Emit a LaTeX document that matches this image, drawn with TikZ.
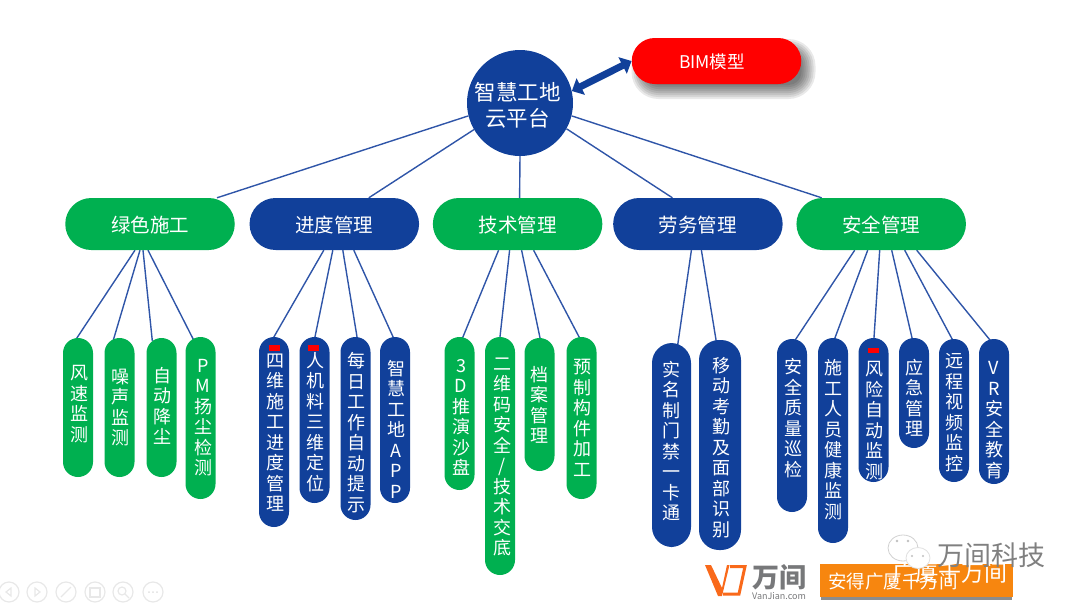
\documentclass[tikz,border=0pt]{standalone}
\usepackage{fontspec}
\setmainfont{Noto Sans CJK SC}
\usetikzlibrary{arrows.meta,positioning,backgrounds}
\definecolor{deepblue}{HTML}{11409A}
\definecolor{wireblue}{HTML}{2F55A8}
\definecolor{leafgreen}{HTML}{00B050}
\definecolor{tagorange}{HTML}{F7860F}
\definecolor{logored}{HTML}{F9691A}
\definecolor{logogray}{HTML}{77787A}
\tikzset{
  topbox/.style   = {rectangle, rounded corners=26pt, inner sep=0pt, minimum width=169.5pt,
                     minimum height=52pt, text=white, align=center, text height=19pt,
                     font=\fontsize{19.5}{24}\selectfont},
  leaf/.style     = {rectangle, rounded corners=15pt, inner sep=0pt, minimum width=30pt},
  wideleaf/.style = {leaf, rounded corners=20pt},
  leaftext/.style = {inner sep=0pt, text=white, align=center, font=\fontsize{18}{20.5}\selectfont},
  redtag/.style   = {fill=red, inner sep=0pt, minimum width=11pt, minimum height=5.5pt},
  wire/.style     = {draw=wireblue, line width=1.4pt, shorten >=-3pt},
  toolring/.style = {draw=black!9, line width=1.2pt},
}
\begin{document}
\begin{tikzpicture}[x=1pt,y=-1pt]
\useasboundingbox (0,0) rectangle (1080,603);
% ---- platform and model ----
\node[circle, fill=deepblue, minimum size=106pt, inner sep=0pt] (root) at (520,103) {};
\node[leaftext, font=\fontsize{21.5}{26}\selectfont] (roottxt) at (517.5,105) {智慧工地\\云平台};
\node[topbox, fill=red, minimum height=46pt, rounded corners=23pt] (bim) at (716.5,61) {};
\node[leaftext, font=\fontsize{17.5}{20}\selectfont] (bimtxt) at (712,62) {BIM模型};
\draw[{Triangle[length=10pt,width=18pt]}-{Triangle[length=10pt,width=18pt]}, line width=7pt, draw=deepblue]
  (root.13) -- (bim.west);
% ---- second row ----
\node[topbox, fill=leafgreen] (green) at (150,224) {绿色施工};
\node[topbox, fill=deepblue, right=14.4pt of green] (prog) {进度管理};
\node[topbox, fill=leafgreen, right=13.4pt of prog] (tech) {技术管理};
\node[topbox, fill=deepblue, right=10.4pt of tech] (labor) {劳务管理};
\node[topbox, fill=leafgreen, right=13.4pt of labor] (safe) {安全管理};
% ---- green construction ----
\foreach \n/\x/\ya/\yb/\xt/\yt/\txt in {
    green1/78/338/477/79.5/404/{风\\速\\监\\测},
    green2/119.5/338/477/120/407.5/{噪\\声\\监\\测},
    green3/161.5/338/477/162.5/406/{自\\动\\降\\尘},
    green4/200.5/337/499/203/417.5/{P\\M\\扬\\尘\\检\\测}} {
  \node[leaf, fill=leafgreen, minimum height={\yb-\ya}] (\n) at (\x,{(\ya+\yb)/2}) {};
  \node[leaftext] (\n txt) at (\xt,\yt) {\txt};
}
% ---- progress ----
\foreach \n/\x/\ya/\yb/\xt/\yt/\txt in {
    prog1/274/337/527/275/432.5/{四\\维\\施\\工\\进\\度\\管\\理},
    prog2/314.5/337/503/315/422/{人\\机\\料\\三\\维\\定\\位},
    prog3/355.5/337/520/356/432.5/{每\\日\\工\\作\\自\\动\\提\\示},
    prog4/395/337/503/396/429/{智\\慧\\工\\地\\A\\P\\P}} {
  \node[leaf, fill=deepblue, minimum height={\yb-\ya}] (\n) at (\x,{(\ya+\yb)/2}) {};
  \node[leaftext] (\n txt) at (\xt,\yt) {\txt};
}
\node[redtag] (tag1) at (274.5,348) {};
\node[redtag] (tag2) at (313.5,348) {};
% ---- technology ----
\foreach \n/\x/\ya/\yb/\xt/\yt/\txt in {
    tech1/459.5/337/490/461/417.5/{3\\D\\推\\演\\沙\\盘},
    tech2/500/337/575/502/457/{二\\维\\码\\安\\全\\/\\技\\术\\交\\底},
    tech3/539.5/338/471/539/405/{档\\案\\管\\理},
    tech4/581.5/337/499/582/418/{预\\制\\构\\件\\加\\工}} {
  \node[leaf, fill=leafgreen, minimum height={\yb-\ya}] (\n) at (\x,{(\ya+\yb)/2}) {};
  \node[leaftext] (\n txt) at (\xt,\yt) {\txt};
}
% ---- labour ----
\node[wideleaf, fill=deepblue, minimum width=39pt, minimum height=204pt] (labor1) at (671.5,445) {};
\node[leaftext] (labor1 txt) at (671,441) {实\\名\\制\\门\\禁\\一\\卡\\通};
\node[wideleaf, fill=deepblue, minimum width=42pt, minimum height=210pt] (labor2) at (720,445) {};
\node[leaftext] (labor2 txt) at (721,447.5) {移\\动\\考\\勤\\及\\面\\部\\识\\别};
% ---- safety ----
\foreach \n/\x/\ya/\yb/\xt/\yt/\txt in {
    safe1/792/339/512/793/418/{安\\全\\质\\量\\巡\\检},
    safe2/833/338/543/833/439.5/{施\\工\\人\\员\\健\\康\\监\\测},
    safe3/873.5/338/482/874/420.5/{风\\险\\自\\动\\监\\测},
    safe4/914/338/448/914/398/{应\\急\\管\\理},
    safe5/954/339/482/954/412.5/{远\\程\\视\\频\\监\\控},
    safe6/994/339/484/994/420/{V\\R\\安\\全\\教\\育}} {
  \node[leaf, fill=deepblue, minimum height={\yb-\ya}] (\n) at (\x,{(\ya+\yb)/2}) {};
  \node[leaftext] (\n txt) at (\xt,\yt) {\txt};
}
\node[redtag] (tag3) at (873.5,350.5) {};
% ---- connectors and shadows go under the boxes ----
\begin{pgfonlayer}{background}
\foreach \s [evaluate=\s as \r using 13+\s] in {0,2,...,14}
  \node[fill=black, opacity=0.085, inner sep=0pt, rounded corners=\r pt,
        minimum width={156+2*\s}, minimum height={32+2*\s}] (bimshade\s) at (723.5,69) {};
\draw[wire, shorten >=0pt] (root.194) -- ([xshift=67pt]green.north);
\draw[wire, shorten >=0pt] (root.210) -- ([xshift=34.5pt]prog.north);
\draw[wire, shorten >=0pt] (root.270) -- ([xshift=2pt]tech.north);
\draw[wire, shorten >=0pt] (root.331) -- ([xshift=-25.5pt]labor.north);
\draw[wire, shorten >=0pt] (root.346) -- ([xshift=-59.5pt]safe.north);
\foreach \a/\c/\b in {-15/green1/-1, -10/green2/-5.5, -7/green3/-9.5, -2/green4/-8.5}
  \draw[wire] ([xshift=\a pt]green.south) -- ([xshift=\b pt]\c.north);
\foreach \a/\c/\b in {-10.5/prog1/0, -1.5/prog2/0.5, 8.5/prog3/1.5, 19.5/prog4/-2}
  \draw[wire] ([xshift=\a pt]prog.south) -- ([xshift=\b pt]\c.north);
\foreach \a/\c/\b in {-19/tech1/3.5, -8/tech2/0, 4/tech3/0.5, 16/tech4/-2.5}
  \draw[wire] ([xshift=\a pt]tech.south) -- ([xshift=\b pt]\c.north);
\foreach \a/\c/\b in {-6.5/labor1/6.5, 3.5/labor2/-4}
  \draw[wire] ([xshift=\a pt]labor.south) -- ([xshift=\b pt]\c.north);
\foreach \a/\c/\b in {-26.5/safe1/4, -13.5/safe2/2, -1.5/safe3/0.5, 10.5/safe4/-2, 23.5/safe5/-2, 35.5/safe6/-5}
  \draw[wire] ([xshift=\a pt]safe.south) -- ([xshift=\b pt]\c.north);
\end{pgfonlayer}
% ---- logo ----
\fill[logored] (705,565) -- (711,565) -- (722,588) -- (727,565) -- (729.5,565) -- (722,596) -- (718,596) -- cycle;
\draw[logored, line width=3pt] (730,566.5) -- (745,566.5) -- (739,594) -- (723,594);
\node[inner sep=0pt, text=logogray, font=\fontsize{27}{27}\selectfont\bfseries] (logo) at (779,577) {万间};
\node[below=2pt of logo, inner sep=0pt, text=logogray, font=\fontsize{9}{9}\selectfont] (logosite) {VanJian.com};
% ---- orange banner ----
\fill[black!45] (821,597) rectangle (1012,600);
\node[fill=tagorange, inner sep=0pt, minimum width=193pt, minimum height=33pt] (banner) at (916.5,580.5) {};
\node[inner sep=0pt, text=white, anchor=west, font=\fontsize{18.5}{22}\selectfont] (slogan) at (828,582) {安得广厦千万间};
\node[inner sep=0pt, text=white, anchor=east, font=\fontsize{23}{26}\selectfont] (sloganb) at (1008,573) {广厦千万间};
% ---- account mark ----
\fill[white, draw=black!18, line width=0.8pt] (903,548) ellipse (15 and 13);
\fill[white, draw=black!12, line width=0.8pt] (918,558) ellipse (12 and 10.5);
\fill[black!25] (897,541) circle (1.4) (908,541) circle (1.4) (912,556) circle (1.2) (923,556) circle (1.2);
\node[inner sep=0pt, text=black!50, font=\fontsize{27}{29}\selectfont] (account) at (991.5,555) {万间科技};
% ---- slide tool icons ----
\foreach \x in {9,37,66,95,123,153}
  \draw[toolring] (\x,592) circle (10);
\draw[toolring] (11,588) -- (6,592) -- (11,596) -- cycle;
\draw[toolring] (35,588) -- (40,592) -- (35,596) -- cycle;
\draw[toolring] (61,597) -- (71,587);
\draw[toolring] (90,588) rectangle (100,597);
\draw[toolring] (122,591) circle (4) (125,594) -- (129,598);
\fill[black!12] (149,592) circle (1) (153,592) circle (1) (157,592) circle (1);
\end{tikzpicture}
\end{document}
